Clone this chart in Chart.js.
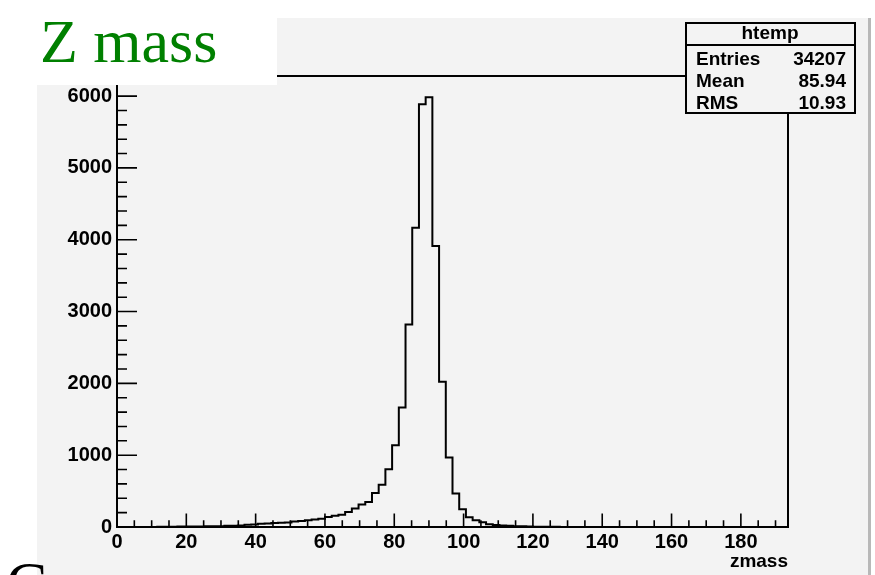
<!DOCTYPE html>
<html>
<head>
<meta charset="utf-8">
<script src="https://cdn.jsdelivr.net/npm/chart.js@4/dist/chart.umd.min.js"></script>
<style>
  html, body { margin: 0; padding: 0; background: #fff; }
  #grafica { display: block; }
</style>
</head>
<body>
<canvas id="grafica" width="875" height="575"></canvas>
<script>
// histograma zmass: 100 bins desde 0, ancho 1.936
const xMin = 0;
const binWidth = 1.936;
const counts = [
  0, 0, 0, 0, 0, 0, 3, 4, 5, 6,
  6, 7, 8, 9, 10, 12, 16, 18, 20, 30,
  35, 45, 50, 55, 60, 62, 75, 82, 95, 105,
  115, 140, 155, 172, 209, 256, 312, 349, 474, 590,
  804, 1139, 1664, 2820, 4167, 5887, 5985, 3912, 2021, 967,
  465, 247, 135, 93, 65, 38, 28, 20, 16, 12,
  9, 6, 5, 4, 3, 2, 1, 1, 1, 1,
  0, 0, 0, 0, 0, 0, 0, 0, 0, 0,
  0, 0, 0, 0, 0, 0, 0, 0, 0, 0,
  0, 0, 0, 0, 0, 0, 0, 0, 0, 0
];
const yMax = 6280;
const xTicks = [0, 20, 40, 60, 80, 100, 120, 140, 160, 180];
const yTicks = [0, 1000, 2000, 3000, 4000, 5000, 6000];
const titulo = 'Z mass';
const ejeX = 'zmass';
const statsNombre = 'htemp';
const statsEtiquetas = ['Entries', 'Mean', 'RMS'];
const statsValores = ['34207', '85.94', '10.93'];

(function() {
  const xMax = xMin + binWidth * counts.length;

  // puntos en el borde izquierdo de cada bin, mas el borde final
  const puntos = counts.map((c, i) => ({ x: xMin + i * binWidth, y: c }));
  puntos.push({ x: xMax, y: counts[counts.length - 1] });

  const fuente = '"Liberation Sans", Arial, sans-serif';
  Chart.defaults.font.family = fuente;
  Chart.defaults.color = '#000';

  // fondo del pad
  const fondo = {
    id: 'fondo',
    beforeDraw(chart) {
      const ctx = chart.ctx;
      ctx.save();
      ctx.fillStyle = '#ffffff';
      ctx.fillRect(0, 0, chart.width, chart.height);
      ctx.fillStyle = '#f3f3f3';
      ctx.fillRect(37, 18, 831, 557);
      ctx.fillStyle = '#b8b8b8';
      ctx.fillRect(868, 18, 3, 557);
      ctx.restore();
    }
  };

  // marco, ticks hacia dentro, caja de stats y titulo
  const marco = {
    id: 'marco',
    afterDraw(chart) {
      const ctx = chart.ctx;
      const { left, right, top, bottom } = chart.chartArea;
      const x = chart.scales.x;
      const y = chart.scales.y;
      ctx.save();
      ctx.strokeStyle = '#000';
      ctx.lineWidth = 2;
      ctx.strokeRect(left, top, right - left, bottom - top);

      ctx.lineWidth = 1.6;
      ctx.beginPath();
      for (let v = 0; v <= x.max; v += 5) {
        const px = x.getPixelForValue(v);
        const len = v % 20 === 0 ? 13.5 : 6.8;
        ctx.moveTo(px, bottom);
        ctx.lineTo(px, bottom - len);
      }
      for (let v = 0; v <= y.max; v += 200) {
        const py = y.getPixelForValue(v);
        const len = v % 1000 === 0 ? 20 : 10;
        ctx.moveTo(left, py);
        ctx.lineTo(left + len, py);
      }
      ctx.stroke();

      // caja de estadisticas
      ctx.fillStyle = '#f3f3f3';
      ctx.fillRect(686, 23, 169, 90);
      ctx.lineWidth = 2;
      ctx.strokeRect(686, 23, 169, 90);
      ctx.beginPath();
      ctx.moveTo(686, 45);
      ctx.lineTo(855, 45);
      ctx.stroke();
      ctx.fillStyle = '#000';
      ctx.font = 'bold 19px ' + fuente;
      ctx.textAlign = 'center';
      ctx.textBaseline = 'alphabetic';
      ctx.fillText(statsNombre, 770, 39);
      statsEtiquetas.forEach((et, i) => {
        const by = 65 + i * 22;
        ctx.textAlign = 'left';
        ctx.fillText(et, 696, by);
        ctx.textAlign = 'right';
        ctx.fillText(statsValores[i], 846, by);
      });

      // titulo
      ctx.fillStyle = '#ffffff';
      ctx.fillRect(0, 0, 277, 85);
      ctx.fillStyle = '#008000';
      ctx.font = '62px "Liberation Serif", "Times New Roman", serif';
      ctx.textAlign = 'left';
      ctx.fillText(titulo, 40, 62);

      // resto de texto cortado abajo a la izquierda
      ctx.fillStyle = '#000';
      ctx.fillText('C', 6, 604);
      ctx.restore();
    }
  };

  const ctx = document.getElementById('grafica');

  new Chart(ctx, {
    type: 'line',
    data: {
      datasets: [{
        data: puntos,
        stepped: true,
        borderColor: '#000',
        borderWidth: 2,
        pointRadius: 0,
        fill: false
      }]
    },
    options: {
      responsive: false,
      animation: false,
      devicePixelRatio: 1,
      layout: { padding: { left: 0, top: 76, right: 87, bottom: 0 } },
      scales: {
        x: {
          type: 'linear',
          min: xMin,
          max: xMax,
          grid: { display: false, drawTicks: false },
          border: { display: false },
          ticks: {
            autoSkip: false,
            maxRotation: 0,
            padding: 3,
            font: { size: 20, weight: 'bold' },
            callback: v => String(v)
          },
          afterBuildTicks(scale) { scale.ticks = xTicks.map(v => ({ value: v })); },
          title: {
            display: true,
            text: ejeX,
            align: 'end',
            font: { size: 19, weight: 'bold' },
            padding: { top: 0, bottom: 2 }
          },
          afterFit(scale) { scale.height = 48; }
        },
        y: {
          min: 0,
          max: yMax,
          grid: { display: false, drawTicks: false },
          border: { display: false },
          ticks: {
            autoSkip: false,
            padding: 5,
            font: { size: 20, weight: 'bold' },
            callback: v => String(v)
          },
          afterBuildTicks(scale) { scale.ticks = yTicks.map(v => ({ value: v })); },
          afterFit(scale) { scale.width = 117; }
        }
      },
      plugins: {
        legend: { display: false },
        tooltip: { enabled: false }
      }
    },
    plugins: [fondo, marco]
  });
})();
</script>
</body>
</html>
